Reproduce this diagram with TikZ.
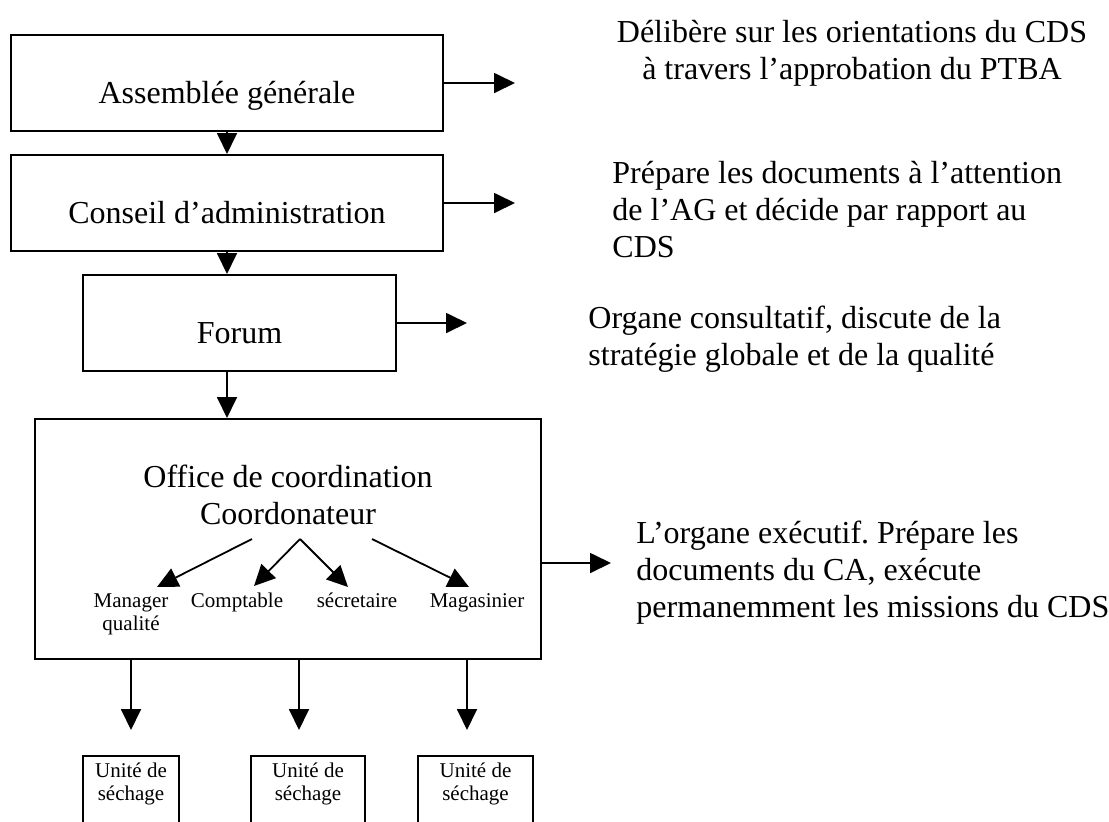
\documentclass[tikz,border=0pt]{standalone}
\usepackage{fontspec}
\setmainfont{Liberation Serif}
\usetikzlibrary{arrows.meta}
\frenchspacing
\begin{document}
\begin{tikzpicture}[x=0.5pt,y=-0.5pt,
  box/.style={draw, line width=1pt, inner sep=0pt},
  big/.style={inner sep=0pt, font=\fontsize{16}{18.5}\selectfont},
  small/.style={inner sep=0pt, font=\fontsize{10.5}{11.5}\selectfont},
  arr/.style={line width=0.9pt, -{Triangle[length=10.5pt,width=10pt]}}]
\useasboundingbox (0,0) rectangle (1109,821);
\clip (0,0) rectangle (1109,821);
% boxes
\node[box, minimum width=216pt, minimum height=48pt] (ag) at (227,83) {};
\node[box, minimum width=216pt, minimum height=48pt] (ca) at (227,203) {};
\node[box, minimum width=156.5pt, minimum height=48pt] (forum) at (239.5,323) {};
\node[box, minimum width=253pt, minimum height=120pt] (office) at (288,539) {};
\node[box, minimum width=48pt, minimum height=45pt, anchor=north] (u1) at (131,755) {};
\node[box, minimum width=57pt, minimum height=45pt, anchor=north] (u2) at (308,755) {};
\node[box, minimum width=57.5pt, minimum height=45pt, anchor=north] (u3) at (475.5,755) {};
% box labels
\node[big, anchor=base] (agl) at (227,103) {Assemblée générale};
\node[big, anchor=base] (cal) at (227,223) {Conseil d’administration};
\node[big, anchor=base] (forl) at (239.5,343) {Forum};
\node[big, anchor=base] (offl) at (288,487) {\begin{tabular}[t]{@{}c@{}}Office de coordination\\Coordonateur\end{tabular}};
\node[small, anchor=base] (man) at (131,607) {\begin{tabular}[t]{@{}c@{}}Manager\\qualité\end{tabular}};
\node[small, anchor=base] (comp) at (237,607) {Comptable};
\node[small, anchor=base] (sec) at (357,607) {sécretaire};
\node[small, anchor=base] (mag) at (477,607) {Magasinier};
\node[small, anchor=base] (u1l) at (131,777) {\begin{tabular}[t]{@{}c@{}}Unité de\\séchage\end{tabular}};
\node[small, anchor=base] (u2l) at (308,777) {\begin{tabular}[t]{@{}c@{}}Unité de\\séchage\end{tabular}};
\node[small, anchor=base] (u3l) at (475.5,777) {\begin{tabular}[t]{@{}c@{}}Unité de\\séchage\end{tabular}};
% right texts
\node[big, anchor=base] (d1) at (852,42) {\begin{tabular}[t]{@{}c@{}}Délibère sur les orientations du CDS\\à travers l’approbation du PTBA\end{tabular}};
\node[big, anchor=base west] (d2) at (612,183) {\begin{tabular}[t]{@{}l@{}}Prépare les documents à l’attention\\de l’AG et décide par rapport au\\CDS\end{tabular}};
\node[big, anchor=base west] (d3) at (588,328) {\begin{tabular}[t]{@{}l@{}}Organe consultatif, discute de la\\stratégie globale et de la qualité\end{tabular}};
\node[big, anchor=base west] (d4) at (636,543) {\begin{tabular}[t]{@{}l@{}}L’organe exécutif. Prépare les\\documents du CA, exécute\\permanemment les missions du CDS\end{tabular}};
% coordinates
\coordinate (e1) at (515,83);
\coordinate (e2) at (515,203);
\coordinate (e3) at (467,323);
\coordinate (e4) at (611,563);
\coordinate (c1) at (252,539);
\coordinate (c2) at (300,539);
\coordinate (c3) at (372,539);
\coordinate (t1) at (157,587);
\coordinate (t2) at (254,586);
\coordinate (t3) at (348,587);
\coordinate (t4) at (469,587);
\coordinate (b1) at (131,730);
\coordinate (b2) at (299,730);
\coordinate (b3) at (467,730);
% connectors
\draw[arr] (ag.east) -- (e1);
\draw[arr] (ca.east) -- (e2);
\draw[arr] (forum.east) -- (e3);
\draw[arr] (office.east |- e4) -- (e4);
\draw[arr] (ag.south) -- (ca.north);
\draw[arr] (ca.south) -- (forum.north -| ca.south);
\draw[arr] (forum.south -| ca.south) -- (office.north -| ca.south);
\draw[arr] (c1) -- (t1);
\draw[arr] (c2) -- (t2);
\draw[arr] (c2) -- (t3);
\draw[arr] (c3) -- (t4);
\draw[arr] (office.south -| b1) -- (b1);
\draw[arr] (office.south -| b2) -- (b2);
\draw[arr] (office.south -| b3) -- (b3);
\end{tikzpicture}
\end{document}
